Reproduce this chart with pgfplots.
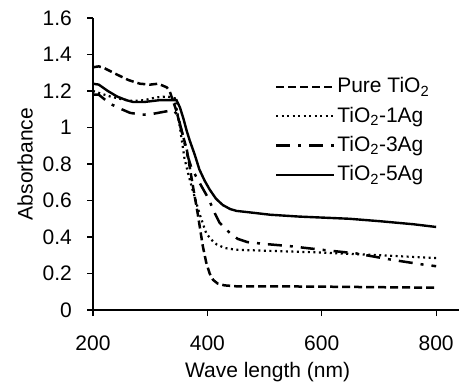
\documentclass[border=0pt]{standalone}
\usepackage{pgfplots}
\pgfplotsset{compat=1.18}
\usepackage{fontspec}
\setmainfont{Liberation Sans}
\begin{document}
\fontsize{21bp}{25bp}\selectfont
\begin{tikzpicture}
\begin{axis}[name=ax, scale only axis, width=366bp, height=292bp,
  xmin=200, xmax=840, ymin=0, ymax=1.6,
  axis lines=left, axis line style={line width=1.2bp, -},
  xtick={200,400,600,800}, ytick={0,0.2,0.4,0.6,0.8,1,1.2,1.4,1.6},
  tick align=outside, major tick length=6bp, tick style={line width=1.2bp, black},
  /pgf/number format/assume math mode=true,
  xticklabel style={yshift=-13bp},
  yticklabel style={/pgf/number format/fixed, /pgf/number format/precision=1, xshift=-8bp},
  xlabel={Wave length (nm)}, ylabel={Absorbance},
  xlabel style={at={([yshift=-62bp]rel axis cs:0.477,0)}, anchor=center},
  ylabel style={at={([xshift=-68bp]rel axis cs:0,0.5)}, anchor=center},
  legend cell align=left,
  legend style={draw=none, fill=none, at={(rel axis cs:0.488,0.81)}, anchor=north west,
    row sep=7bp,
    legend image code/.code={\draw[#1] (0bp,0bp) -- (58bp,0bp);}},
  every axis plot/.append style={black, line cap=butt},
]
% Pure TiO2
\addplot[line width=2.5bp, dash pattern=on 8bp off 4bp] coordinates {
(200,1.33) (210,1.335) (220,1.325) (242,1.29) (262,1.26) (282,1.24) (300,1.235)
(314,1.24) (329,1.22) (334,1.20) (346,1.09) (355,0.98) (364,0.88) (373,0.71)
(383,0.53) (392,0.35) (398,0.26) (404,0.20) (410,0.165) (418,0.145) (430,0.135)
(450,0.13) (500,0.13) (600,0.128) (700,0.125) (800,0.122)};
\addlegendentry{Pure TiO\textsubscript{2}}
% 1Ag
\addplot[line width=2.2bp, dash pattern=on 2bp off 3.5bp] coordinates {
(200,1.20) (210,1.19) (230,1.17) (250,1.155) (270,1.145) (290,1.15) (310,1.165)
(330,1.17) (343,1.16) (352,1.00) (360,0.83) (367,0.74) (374,0.66) (386,0.53)
(398,0.42) (407,0.385) (416,0.36) (430,0.34) (450,0.33) (500,0.325) (600,0.315)
(700,0.30) (800,0.285)};
\addlegendentry{TiO\textsubscript{2}-1Ag}
% 3Ag
\addplot[line width=2.5bp, dash pattern=on 14bp off 8bp on 3bp off 8bp] coordinates {
(200,1.18) (210,1.18) (230,1.13) (250,1.10) (265,1.08) (287,1.07) (305,1.075)
(322,1.085) (340,1.095) (348,1.07) (356,0.97) (364,0.86) (372,0.78) (384,0.71)
(393,0.66) (402,0.61) (413,0.53) (421,0.48) (430,0.45) (440,0.42) (453,0.39)
(470,0.372) (500,0.362) (544,0.35) (600,0.33) (660,0.31) (723,0.275) (775,0.25)
(800,0.24)};
\addlegendentry{TiO\textsubscript{2}-3Ag}
% 5Ag
\addplot[line width=2.4bp] coordinates {
(200,1.24) (210,1.235) (226,1.20) (242,1.17) (258,1.15) (270,1.14) (290,1.14)
(317,1.15) (346,1.15) (352,1.11) (358,1.05) (364,0.98) (369,0.93) (378,0.85)
(386,0.77) (395,0.71) (404,0.66) (415,0.61) (427,0.575) (440,0.553) (451,0.543)
(474,0.535) (510,0.522) (560,0.512) (648,0.50) (700,0.487) (760,0.47) (800,0.455)};
\addlegendentry{TiO\textsubscript{2}-5Ag}
\end{axis}
\pgfresetboundingbox
\path ([xshift=-93bp,yshift=-73bp]ax.south west) rectangle ([yshift=18bp]ax.north east);
\end{tikzpicture}
\end{document}
